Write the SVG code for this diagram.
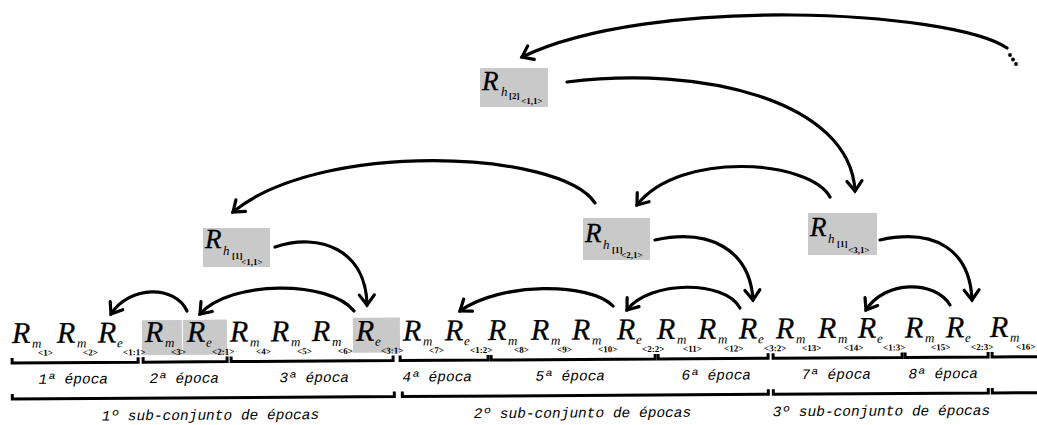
<svg xmlns="http://www.w3.org/2000/svg" width="1037" height="425" viewBox="0 0 1037 425">
<style>
.R{font-family:"Liberation Serif",serif;font-style:italic;font-size:30px;fill:#000;stroke:#000;stroke-width:0.3}
.RT{font-family:"Liberation Serif",serif;font-style:italic;font-size:27px;fill:#000;stroke:#000;stroke-width:0.3}
.s{font-family:"Liberation Serif",serif;font-style:italic;font-size:13px;fill:#000}
.i{font-family:"Liberation Serif",serif;font-size:9px;font-weight:bold;fill:#000}
.ep{font-family:"Liberation Mono",monospace;font-style:italic;font-size:14.5px;text-anchor:middle;fill:#000}
.br{fill:none;stroke:#000;stroke-width:3}
.arc{fill:none;stroke:#000;stroke-width:3.2;stroke-linecap:round;marker-end:url(#ah)}
.sh{fill:#c9c9c9}
</style>
<defs>
<marker id="ah" viewBox="-14 -10 20 20" refX="0" refY="0" markerWidth="20" markerHeight="20" markerUnits="userSpaceOnUse" orient="auto" overflow="visible">
<path d="M-10,-7.5 L0,0 L-10,7.5" fill="none" stroke="#000" stroke-width="3.2" stroke-linecap="round"/>
</marker>
</defs>
<rect width="1037" height="425" fill="#fff"/>

<g id="connectors">
<path class="arc" d="M1007,48 C950,10 650,-5 522,57"/>
<circle cx="1010" cy="55" r="1.9"/><circle cx="1013" cy="59.5" r="1.9"/><circle cx="1016" cy="64" r="1.9"/>
<path class="arc" d="M567,82 C700,65 850,100 855,191"/>
<path class="arc" d="M830,197 C810,160 680,150 637,205"/>
<path class="arc" d="M595,203 C560,150 320,140 233,212"/>
<path class="arc" d="M275,247 C320,232 366,250 367,305"/>
<path class="arc" d="M354,311 C330,280 230,280 200,314"/>
<path class="arc" d="M187,311 C175,285 130,285 111,314"/>
<path class="arc" d="M655,240 C710,228 750,250 753,300"/>
<path class="arc" d="M740,308 C725,280 650,280 627,310"/>
<path class="arc" d="M613,306 C590,282 500,282 460,311"/>
<path class="arc" d="M880,240 C935,228 970,250 972,300"/>
<path class="arc" d="M950,305 C935,280 885,280 866,310"/>
</g>

<g id="node-h2-11">
<rect class="sh" x="480" y="68" width="68" height="39"/>
<text class="RT" x="482" y="90">R</text>
<text class="s" x="501" y="96">h</text>
<text class="i" x="509" y="99">[2]</text>
<text class="i" x="521" y="104">&lt;1,1&gt;</text>
</g>
<g id="node-h1-11">
<rect class="sh" x="203" y="228" width="67" height="39"/>
<text class="RT" x="205" y="248">R</text>
<text class="s" x="223" y="255">h</text>
<text class="i" x="232" y="259">[1]</text>
<text class="i" x="241" y="265">&lt;1,1&gt;</text>
</g>
<g id="node-h1-21">
<rect class="sh" x="583" y="218" width="67" height="42"/>
<text class="RT" x="585" y="242">R</text>
<text class="s" x="603" y="249">h</text>
<text class="i" x="612" y="253">[1]</text>
<text class="i" x="621" y="258">&lt;2,1&gt;</text>
</g>
<g id="node-h1-31">
<rect class="sh" x="808" y="213" width="69" height="42"/>
<text class="RT" x="810" y="236">R</text>
<text class="s" x="828" y="243">h</text>
<text class="i" x="837" y="247">[1]</text>
<text class="i" x="848" y="253">&lt;3,1&gt;</text>
</g>

<g id="bottom" transform="rotate(-0.35 0 343)">
<rect class="sh" x="142" y="321" width="40" height="35"/>
<rect class="sh" x="183" y="321" width="44" height="35"/>
<rect class="sh" x="353" y="320" width="47" height="35"/>

<g id="rm1"><text class="R" x="12" y="343">R</text><text class="s" x="32" y="348">m</text><text class="i" x="38" y="356">&lt;1&gt;</text></g>
<g id="rm2"><text class="R" x="57" y="343">R</text><text class="s" x="77" y="348">m</text><text class="i" x="83" y="356">&lt;2&gt;</text></g>
<g id="re11"><text class="R" x="98" y="343">R</text><text class="s" x="117" y="348">e</text><text class="i" x="123" y="356">&lt;1:1&gt;</text></g>
<g id="rm3"><text class="R" x="145" y="343">R</text><text class="s" x="165" y="348">m</text><text class="i" x="171" y="356">&lt;3&gt;</text></g>
<g id="re21"><text class="R" x="187" y="343">R</text><text class="s" x="206" y="348">e</text><text class="i" x="212" y="356">&lt;2:1&gt;</text></g>
<g id="rm4"><text class="R" x="230" y="343">R</text><text class="s" x="250" y="348">m</text><text class="i" x="256" y="356">&lt;4&gt;</text></g>
<g id="rm5"><text class="R" x="271" y="343">R</text><text class="s" x="291" y="348">m</text><text class="i" x="297" y="356">&lt;5&gt;</text></g>
<g id="rm6"><text class="R" x="312" y="343">R</text><text class="s" x="332" y="348">m</text><text class="i" x="338" y="356">&lt;6&gt;</text></g>
<g id="re31"><text class="R" x="356" y="343">R</text><text class="s" x="375" y="348">e</text><text class="i" x="381" y="356">&lt;3:1&gt;</text></g>
<g id="rm7"><text class="R" x="403" y="343">R</text><text class="s" x="423" y="348">m</text><text class="i" x="429" y="356">&lt;7&gt;</text></g>
<g id="re12"><text class="R" x="445" y="343">R</text><text class="s" x="464" y="348">e</text><text class="i" x="470" y="356">&lt;1:2&gt;</text></g>
<g id="rm8"><text class="R" x="488" y="343">R</text><text class="s" x="508" y="348">m</text><text class="i" x="514" y="356">&lt;8&gt;</text></g>
<g id="rm9"><text class="R" x="531" y="343">R</text><text class="s" x="551" y="348">m</text><text class="i" x="557" y="356">&lt;9&gt;</text></g>
<g id="rm10"><text class="R" x="572" y="343">R</text><text class="s" x="592" y="348">m</text><text class="i" x="598" y="356">&lt;10&gt;</text></g>
<g id="re22"><text class="R" x="617" y="343">R</text><text class="s" x="636" y="348">e</text><text class="i" x="642" y="356">&lt;2:2&gt;</text></g>
<g id="rm11"><text class="R" x="657" y="343">R</text><text class="s" x="677" y="348">m</text><text class="i" x="683" y="356">&lt;11&gt;</text></g>
<g id="rm12"><text class="R" x="698" y="343">R</text><text class="s" x="718" y="348">m</text><text class="i" x="724" y="356">&lt;12&gt;</text></g>
<g id="re32"><text class="R" x="739" y="343">R</text><text class="s" x="758" y="348">e</text><text class="i" x="764" y="356">&lt;3:2&gt;</text></g>
<g id="rm13"><text class="R" x="776" y="343">R</text><text class="s" x="796" y="348">m</text><text class="i" x="802" y="356">&lt;13&gt;</text></g>
<g id="rm14"><text class="R" x="818" y="343">R</text><text class="s" x="838" y="348">m</text><text class="i" x="844" y="356">&lt;14&gt;</text></g>
<g id="re13"><text class="R" x="858" y="343">R</text><text class="s" x="877" y="348">e</text><text class="i" x="883" y="356">&lt;1:3&gt;</text></g>
<g id="rm15"><text class="R" x="905" y="343">R</text><text class="s" x="925" y="348">m</text><text class="i" x="931" y="356">&lt;15&gt;</text></g>
<g id="re23"><text class="R" x="946" y="343">R</text><text class="s" x="965" y="348">e</text><text class="i" x="971" y="356">&lt;2:3&gt;</text></g>
<g id="rm16"><text class="R" x="990" y="343">R</text><text class="s" x="1010" y="348">m</text><text class="i" x="1016" y="356">&lt;16&gt;</text></g>

<g id="brackets">
<path class="br" d="M12,358 V363 H138 V358"/>
<path class="br" d="M143,358 V363 H227 V358"/>
<path class="br" d="M231,358 V363 H393 V358"/>
<path class="br" d="M400,358 V363 H488 V358"/>
<path class="br" d="M491,358 V363 H655 V358"/>
<path class="br" d="M658,358 V363 H768 V358"/>
<path class="br" d="M773,358 V363 H902 V358"/>
<path class="br" d="M905,358 V363 H988 V358"/>
<path class="br" d="M992,358 V363 H1040"/>
<path class="br" d="M12,394 V399 H394 V394"/>
<path class="br" d="M402,394 V399 H768 V394"/>
<path class="br" d="M773,394 V399 H988 V394"/>
<path class="br" d="M992,394 V399 H1040"/>
</g>

<text class="ep" x="73" y="384">1ª época</text>
<text class="ep" x="184" y="384">2ª época</text>
<text class="ep" x="314" y="384">3ª época</text>
<text class="ep" x="437" y="384">4ª época</text>
<text class="ep" x="570" y="384">5ª época</text>
<text class="ep" x="716" y="384">6ª época</text>
<text class="ep" x="836" y="384">7ª época</text>
<text class="ep" x="943" y="384">8ª época</text>
<text class="ep" x="210" y="421">1º sub-conjunto de épocas</text>
<text class="ep" x="582" y="421">2º sub-conjunto de épocas</text>
<text class="ep" x="881" y="421">3º sub-conjunto de épocas</text>
</g>
</svg>
